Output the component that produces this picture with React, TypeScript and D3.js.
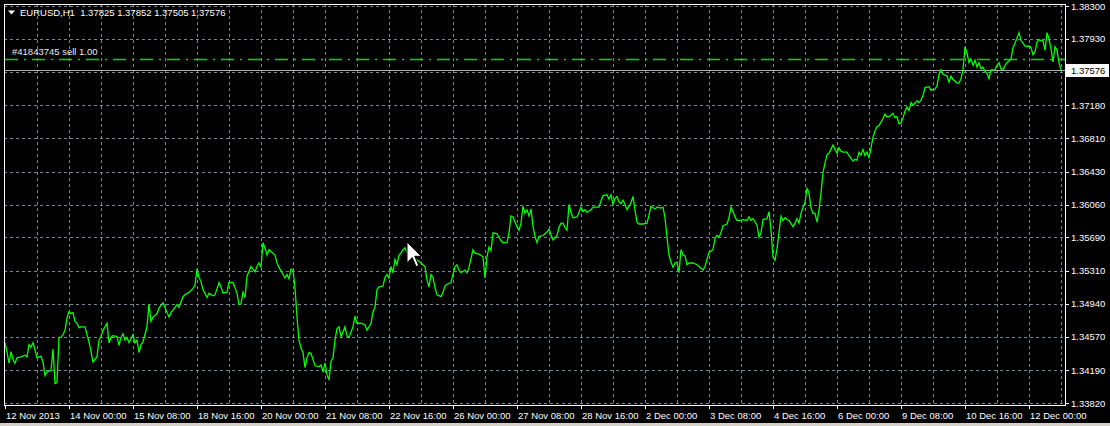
import * as d3 from 'd3';

// EURUSD H1 closes, bar index counted from 12 Nov 2013 16:00
const closes: [number, number][] = [
  [0, 1.3450], [1, 1.3439], [2, 1.3427], [3, 1.3440], [4, 1.3431], [5, 1.3427], [6, 1.3433], [8, 1.3434],
  [10, 1.3436], [11, 1.3434], [12, 1.3448], [13, 1.3445], [14, 1.3450], [15, 1.3442], [16, 1.3433], [18, 1.3435],
  [19, 1.3428], [20, 1.3413], [21, 1.3417], [22, 1.3418], [23, 1.3419], [24, 1.3443], [25, 1.3404], [26, 1.3405],
  [27, 1.3456], [28, 1.3456], [29, 1.3459], [30, 1.3464], [31, 1.3478], [32, 1.3485], [33, 1.3483], [34, 1.3484],
  [35, 1.3474], [36, 1.3472], [37, 1.3467], [38, 1.3468], [40, 1.3468], [41, 1.3459], [42, 1.3451], [43, 1.3440],
  [44, 1.3428], [46, 1.3434], [47, 1.3453], [48, 1.3457], [49, 1.3464], [51, 1.3472], [52, 1.3450], [53, 1.3456],
  [54, 1.3458], [56, 1.3457], [57, 1.3447], [58, 1.3456], [59, 1.3460], [60, 1.3453], [61, 1.3456], [62, 1.3450],
  [64, 1.3459], [65, 1.3450], [66, 1.3453], [67, 1.3439], [68, 1.3448], [69, 1.3451], [71, 1.3468], [72, 1.3494],
  [73, 1.3474], [74, 1.3479], [76, 1.3483], [77, 1.3489], [79, 1.3495], [81, 1.3484], [82, 1.3479], [83, 1.3484],
  [85, 1.3490], [86, 1.3493], [87, 1.3490], [89, 1.3502], [90, 1.3504], [92, 1.3507], [94, 1.3511], [95, 1.3515],
  [96, 1.3533], [97, 1.3524], [98, 1.3519], [99, 1.3510], [101, 1.3501], [102, 1.3506], [104, 1.3503], [105, 1.3504],
  [107, 1.3518], [108, 1.3513], [109, 1.3506], [111, 1.3507], [112, 1.3518], [114, 1.3518], [116, 1.3506], [117, 1.3493],
  [118, 1.3494], [119, 1.3507], [120, 1.3501], [121, 1.3525], [123, 1.3536], [125, 1.3530], [126, 1.3536], [127, 1.3540],
  [128, 1.3535], [129, 1.3563], [130, 1.3557], [131, 1.3549], [132, 1.3555], [135, 1.3549], [136, 1.3540], [137, 1.3535],
  [139, 1.3527], [140, 1.3523], [141, 1.3527], [142, 1.3522], [143, 1.3533], [144, 1.3532], [145, 1.3512], [146, 1.3479],
  [147, 1.3453], [148, 1.3444], [149, 1.3439], [150, 1.3422], [151, 1.3433], [152, 1.3439], [153, 1.3438], [155, 1.3424],
  [157, 1.3423], [158, 1.3425], [159, 1.3417], [160, 1.3427], [161, 1.3414], [162, 1.3408], [163, 1.3429], [164, 1.3433],
  [165, 1.3453], [166, 1.3466], [167, 1.3468], [168, 1.3457], [169, 1.3462], [170, 1.3468], [171, 1.3458], [172, 1.3456],
  [174, 1.3468], [175, 1.3480], [176, 1.3472], [178, 1.3472], [180, 1.3470], [181, 1.3464], [183, 1.3472], [184, 1.3485],
  [185, 1.3490], [186, 1.3510], [187, 1.3513], [189, 1.3514], [190, 1.3524], [191, 1.3527], [192, 1.3523], [193, 1.3536],
  [194, 1.3529], [195, 1.3544], [196, 1.3538], [197, 1.3549], [198, 1.3551], [199, 1.3555], [200, 1.3557], [201, 1.3552],
  [205, 1.3545], [208, 1.3540], [210, 1.3536], [211, 1.3521], [212, 1.3513], [213, 1.3527], [214, 1.3524], [215, 1.3512],
  [216, 1.3504], [218, 1.3502], [219, 1.3507], [220, 1.3514], [221, 1.3516], [223, 1.3518], [224, 1.3527], [225, 1.3536],
  [226, 1.3538], [227, 1.3532], [228, 1.3529], [230, 1.3532], [231, 1.3529], [232, 1.3535], [234, 1.3555], [235, 1.3551],
  [237, 1.3550], [239, 1.3547], [240, 1.3523], [241, 1.3547], [242, 1.3558], [243, 1.3554], [244, 1.3574], [246, 1.3573],
  [247, 1.3569], [248, 1.3565], [249, 1.3563], [251, 1.3563], [252, 1.3574], [253, 1.3593], [254, 1.3592], [256, 1.3581],
  [257, 1.3577], [258, 1.3585], [259, 1.3604], [260, 1.3596], [261, 1.3600], [262, 1.3593], [263, 1.3601], [264, 1.3581],
  [265, 1.3570], [266, 1.3563], [267, 1.3570], [269, 1.3571], [271, 1.3575], [272, 1.3578], [273, 1.3572], [274, 1.3566],
  [276, 1.3571], [277, 1.3580], [278, 1.3585], [279, 1.3585], [280, 1.3580], [281, 1.3577], [282, 1.3606], [283, 1.3597],
  [284, 1.3591], [286, 1.3592], [287, 1.3597], [288, 1.3603], [289, 1.3598], [290, 1.3600], [291, 1.3597], [293, 1.3600],
  [294, 1.3603], [296, 1.3603], [297, 1.3603], [298, 1.3610], [299, 1.3616], [301, 1.3617], [302, 1.3612], [303, 1.3617],
  [304, 1.3606], [305, 1.3613], [306, 1.3615], [307, 1.3609], [308, 1.3607], [309, 1.3611], [310, 1.3606], [311, 1.3600],
  [313, 1.3608], [314, 1.3615], [315, 1.3600], [316, 1.3586], [317, 1.3584], [319, 1.3584], [321, 1.3585], [322, 1.3594],
  [323, 1.3604], [325, 1.3601], [326, 1.3603], [328, 1.3602], [329, 1.3603], [330, 1.3591], [331, 1.3569], [332, 1.3549],
  [333, 1.3541], [334, 1.3535], [335, 1.3540], [336, 1.3541], [337, 1.3529], [338, 1.3555], [339, 1.3549], [340, 1.3548],
  [341, 1.3538], [342, 1.3540], [344, 1.3540], [346, 1.3538], [347, 1.3536], [349, 1.3532], [350, 1.3536], [351, 1.3544],
  [352, 1.3552], [354, 1.3555], [355, 1.3568], [356, 1.3571], [357, 1.3569], [358, 1.3574], [359, 1.3582], [361, 1.3584],
  [362, 1.3591], [363, 1.3603], [364, 1.3598], [365, 1.3592], [366, 1.3588], [368, 1.3588], [369, 1.3589], [371, 1.3588],
  [372, 1.3592], [373, 1.3588], [374, 1.3590], [376, 1.3583], [377, 1.3569], [378, 1.3574], [379, 1.3589], [381, 1.3590],
  [382, 1.3598], [383, 1.3577], [384, 1.3547], [385, 1.3543], [386, 1.3556], [387, 1.3575], [388, 1.3593], [389, 1.3588],
  [390, 1.3591], [391, 1.3589], [392, 1.3588], [394, 1.3581], [395, 1.3585], [396, 1.3590], [397, 1.3585], [398, 1.3596],
  [399, 1.3603], [400, 1.3608], [401, 1.3624], [402, 1.3619], [403, 1.3602], [404, 1.3596], [405, 1.3596], [406, 1.3586],
  [407, 1.3600], [408, 1.3619], [409, 1.3642], [410, 1.3653], [411, 1.3662], [412, 1.3664], [414, 1.3673], [415, 1.3668],
  [416, 1.3664], [417, 1.3670], [418, 1.3666], [419, 1.3665], [421, 1.3665], [422, 1.3661], [424, 1.3655], [425, 1.3657],
  [426, 1.3656], [427, 1.3665], [428, 1.3662], [429, 1.3668], [430, 1.3661], [431, 1.3665], [432, 1.3659], [433, 1.3670],
  [434, 1.3682], [435, 1.3689], [436, 1.3694], [437, 1.3695], [439, 1.3703], [440, 1.3708], [441, 1.3705], [442, 1.3705],
  [444, 1.3709], [445, 1.3704], [446, 1.3705], [447, 1.3697], [448, 1.3698], [449, 1.3704], [450, 1.3711], [451, 1.3716],
  [452, 1.3712], [453, 1.3721], [454, 1.3718], [456, 1.3723], [457, 1.3721], [458, 1.3724], [459, 1.3729], [460, 1.3738],
  [462, 1.3739], [463, 1.3735], [465, 1.3736], [466, 1.3740], [467, 1.3753], [468, 1.3758], [469, 1.3753], [471, 1.3751],
  [472, 1.3744], [473, 1.3751], [474, 1.3747], [476, 1.3743], [477, 1.3743], [478, 1.3748], [479, 1.3758], [480, 1.3784],
  [481, 1.3777], [482, 1.3766], [483, 1.3770], [484, 1.3763], [485, 1.3769], [486, 1.3761], [487, 1.3766], [488, 1.3759],
  [489, 1.3761], [490, 1.3756], [491, 1.3754], [492, 1.3748], [493, 1.3758], [495, 1.3758], [496, 1.3763], [497, 1.3766],
  [498, 1.3759], [499, 1.3758], [500, 1.3763], [501, 1.3766], [503, 1.3770], [504, 1.3783], [505, 1.3788], [506, 1.3794],
  [507, 1.3800], [508, 1.3791], [510, 1.3785], [511, 1.3784], [512, 1.3785], [513, 1.3783], [514, 1.3775], [515, 1.3778],
  [516, 1.3789], [517, 1.3792], [518, 1.3791], [519, 1.3791], [520, 1.3780], [521, 1.3800], [522, 1.3793], [523, 1.3782],
  [524, 1.3767], [525, 1.3784], [526, 1.3780], [527, 1.3766], [528, 1.37576],
];

const timeLabels: [number, string][] = [
  [0, '12 Nov 2013'], [32, '14 Nov 00:00'], [64, '15 Nov 08:00'], [96, '18 Nov 16:00'],
  [128, '20 Nov 00:00'], [160, '21 Nov 08:00'], [192, '22 Nov 16:00'], [224, '26 Nov 00:00'],
  [256, '27 Nov 08:00'], [288, '28 Nov 16:00'], [320, '2 Dec 00:00'], [352, '3 Dec 08:00'],
  [384, '4 Dec 16:00'], [416, '6 Dec 00:00'], [448, '9 Dec 08:00'], [480, '10 Dec 16:00'],
  [512, '12 Dec 00:00'],
];

const priceTicks = [
  1.383, 1.3793, 1.37555, 1.3718, 1.3681, 1.3643, 1.3606, 1.3569, 1.3531, 1.3494, 1.3457, 1.3419, 1.3382,
];

const headerText = 'EURUSD,H1  1.37825 1.37852 1.37505 1.37576';
const bidPrice = 1.37576;
const orderPrice = 1.3770;
const orderText = '#41843745 sell 1.00';

const W = 1110;
const H = 426;
const plot = { left: 4, right: 1065, top: 4, bottom: 405 };
const font = '"Liberation Sans", Arial, sans-serif';

export default function App() {
  const x = d3.scaleLinear().domain([0, 528]).range([5, 1061]);
  const y = d3.scaleLinear().domain([1.3382, 1.383]).range([403, 6]);

  const line = d3.line<[number, number]>()
    .x(d => x(d[0]))
    .y(d => y(d[1]));

  const gridBars = d3.range(16, 529, 16);
  const cursorPts = [[0, 0], [0, 16], [4, 12], [7, 19], [9, 18], [6, 11], [11, 11]]
    .map(p => `${407 + p[0] * 1.3},${242 + p[1] * 1.3}`).join(' ');

  const crisp = (v: number) => Math.round(v) + 0.5;
  const orderY = crisp(y(orderPrice));

  return (
    <svg width={W} height={H} style={{ position: 'fixed', left: 0, top: 0, display: 'block' }}
      fontFamily={font}>
      <rect width={W} height={H} fill="#000" />
      <rect y={423} width={W} height={3} fill="#d4d0c8" />

      {/* grid */}
      <g stroke="#778899" strokeDasharray="3,3" strokeWidth={1} shapeRendering="crispEdges">
        {gridBars.map(b => (
          <line key={'v' + b} x1={crisp(x(b))} x2={crisp(x(b))} y1={plot.top} y2={plot.bottom} />
        ))}
        {priceTicks.map(p => (
          <line key={'h' + p} x1={plot.left} x2={plot.right} y1={crisp(y(p))} y2={crisp(y(p))} />
        ))}
      </g>

      {/* bid line */}
      <line x1={plot.left} x2={plot.right} y1={crisp(y(bidPrice))} y2={crisp(y(bidPrice))}
        stroke="#b0b0b0" shapeRendering="crispEdges" />

      {/* order line (dash-dot) */}
      <path d={`M${plot.left + 1},${orderY}H${plot.right}`} fill="none"
        style={{ stroke: 'rgb(0,215,0)', strokeWidth: 1.5, strokeDasharray: '13 6 2 6' }} />
      <text x={12} y={55} fill="#e8e8e8" fontSize={9.5}>{orderText}</text>

      {/* price line */}
      <path d={line(closes) || ''} fill="none" stroke="#00ff00" strokeWidth={1.3} strokeLinejoin="miter" />

      {/* frame */}
      <rect x={plot.left + 0.5} y={plot.top + 0.5} width={plot.right - plot.left} height={plot.bottom - plot.top}
        fill="none" stroke="#fff" shapeRendering="crispEdges" />

      {/* right axis */}
      {priceTicks.map(p => (
        <g key={'t' + p}>
          <line x1={plot.right} x2={plot.right + 4} y1={crisp(y(p))} y2={crisp(y(p))}
            stroke="#fff" shapeRendering="crispEdges" />
          <text x={1071} y={y(p) + 3.5} fill="#fff" fontSize={9.5}>{p.toFixed(5)}</text>
        </g>
      ))}
      <rect x={1066} y={Math.round(y(bidPrice)) - 6} width={43} height={13} fill="#fff" />
      <text x={1071} y={y(bidPrice) + 3.5} fill="#000" fontSize={9.5}>{bidPrice.toFixed(5)}</text>

      {/* bottom axis */}
      {timeLabels.map(([b, label]) => (
        <g key={'x' + b}>
          <line x1={crisp(x(b))} x2={crisp(x(b))} y1={plot.bottom} y2={plot.bottom + 4}
            stroke="#fff" shapeRendering="crispEdges" />
          <text x={x(b) + 1} y={419} fill="#fff" fontSize={9.5}>{label}</text>
        </g>
      ))}

      {/* header */}
      <polygon points="8,10.5 15,10.5 11.5,14.5" fill="#fff" />
      <text x={20} y={16} fill="#fff" fontSize={9.5} style={{ whiteSpace: 'pre' }}>{headerText}</text>

      {/* mouse cursor */}
      <polygon points={cursorPts} fill="#fff" stroke="#000" strokeWidth={1} />
    </svg>
  );
}
